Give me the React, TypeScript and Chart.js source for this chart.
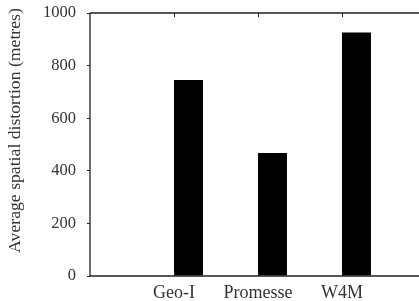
import React, { useEffect, useRef } from "react";
import { Chart, registerables } from "chart.js";

Chart.register(...registerables);

const categories = ["Geo-I", "Promesse", "W4M"];
const distortion = [745, 468, 926];
const ghostSeries: (number | null)[] = [null, null, null];
const yTicks = [0, 200, 400, 600, 800, 1000];
const yTitle = "Average spatial distortion (metres)";

const FONT = "'Liberation Serif', 'DejaVu Serif', serif";
const INK = "#222";
const TEXT = "#333";

const framePlugin = {
  id: "frame",
  afterDatasetsDraw(chart: any) {
    const { ctx, chartArea } = chart;
    const x = chart.scales.x;
    ctx.save();
    ctx.strokeStyle = INK;
    ctx.lineWidth = 1.3;
    ctx.beginPath();
    ctx.moveTo(chartArea.left, chartArea.top);
    ctx.lineTo(chartArea.left, chartArea.bottom);
    ctx.moveTo(chartArea.left, chartArea.top);
    ctx.lineTo(chartArea.right, chartArea.top);
    ctx.moveTo(chartArea.left, chartArea.bottom);
    ctx.lineTo(chartArea.right, chartArea.bottom);
    ctx.stroke();
    ctx.lineWidth = 1;
    ctx.beginPath();
    categories.forEach((_, i) => {
      const px = Math.round(x.getPixelForValue(i)) + 0.5;
      ctx.moveTo(px, chartArea.top);
      ctx.lineTo(px, chartArea.top + 4);
      ctx.moveTo(px, chartArea.bottom);
      ctx.lineTo(px, chartArea.bottom - 4);
    });
    ctx.stroke();
    // y-axis title
    ctx.fillStyle = TEXT;
    ctx.font = `17.7px ${FONT}`;
    ctx.textAlign = "center";
    ctx.textBaseline = "middle";
    ctx.translate(15, (chartArea.top + chartArea.bottom) / 2 - 14);
    ctx.rotate(-Math.PI / 2);
    ctx.fillText(yTitle, 0, 0);
    ctx.restore();
  },
};

export default function App() {
  const ref = useRef<HTMLCanvasElement>(null);
  useEffect(() => {
    if (!ref.current) return;
    const chart = new Chart(ref.current, {
      type: "bar",
      data: {
        datasets: [
          {
            label: "ghost",
            data: ghostSeries.map((v, i) => ({ x: i, y: v })) as any,
            backgroundColor: "rgba(0,0,0,0)",
          },
          {
            label: yTitle,
            data: distortion.map((v, i) => ({ x: i, y: v })) as any,
            backgroundColor: "#000",
            borderWidth: 0,
          },
        ],
      },
      options: {
        animation: false,
        responsive: false,
        maintainAspectRatio: false,
        layout: { padding: { top: 13, right: 0, left: 0, bottom: 0 } },
        plugins: { legend: { display: false }, tooltip: { enabled: false } },
        datasets: { bar: { categoryPercentage: 0.69, barPercentage: 1 } },
        scales: {
          x: {
            type: "linear",
            offset: false,
            min: -1,
            max: 2.917,
            border: { display: false },
            grid: { display: false, drawTicks: false, offset: false },
            afterBuildTicks: (s: any) => {
              s.ticks = categories.map((_, i) => ({ value: i }));
            },
            afterFit: (s: any) => {
              s.height = 25;
              s.paddingLeft = 0;
              s.paddingRight = 0;
            },
            ticks: {
              padding: 6,
              color: TEXT,
              font: { family: FONT, size: 18 },
              maxRotation: 0,
              autoSkip: false,
              callback: (v: any) => categories[v as number] ?? "",
            },
          },
          y: {
            min: 0,
            max: 1000,
            border: { display: false },
            grid: { drawOnChartArea: false, tickLength: 3, color: INK },
            afterBuildTicks: (s: any) => {
              s.ticks = yTicks.map((v) => ({ value: v }));
            },
            afterFit: (s: any) => {
              s.width = 90;
              s.paddingTop = 0;
              s.paddingBottom = 0;
            },
            ticks: {
              padding: 11,
              color: TEXT,
              font: { family: FONT, size: 16.5 },
              callback: (v: any) => String(v),
            },
            title: { display: false },
          },
        },
      },
      plugins: [framePlugin],
    });
    return () => chart.destroy();
  }, []);
  return (
    <div style={{ position: "fixed", left: 0, top: 0, width: 419, height: 301, background: "#fff" }}>
      <canvas ref={ref} width={419} height={301} style={{ width: 419, height: 301 }} />
    </div>
  );
}
